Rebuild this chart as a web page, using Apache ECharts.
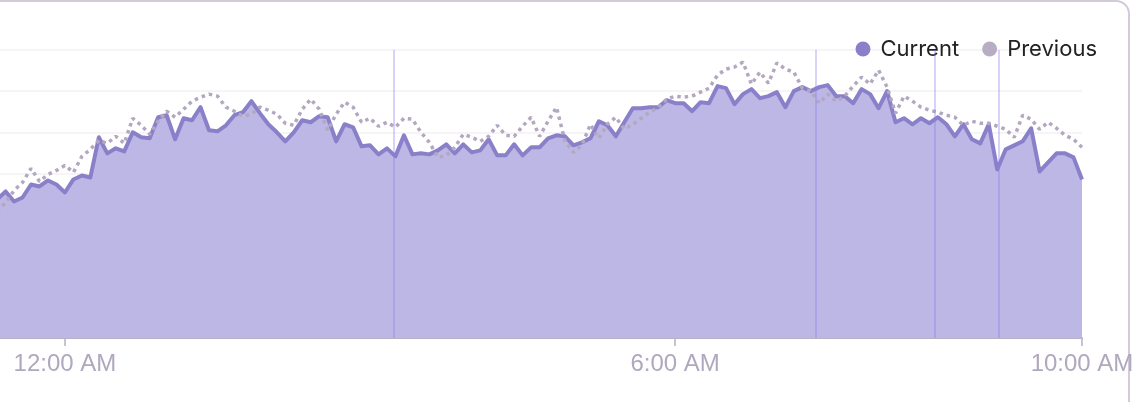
<!DOCTYPE html>
<html>
<head>
<meta charset="utf-8">
<script src="https://cdn.jsdelivr.net/npm/echarts@6/dist/echarts.min.js"></script>
<style>
  html, body { margin: 0; padding: 0; background: #ffffff; width: 1132px; height: 402px; overflow: hidden; }
  #card { position: absolute; left: -30px; top: 0; width: 1160px; height: 520px; box-sizing: border-box;
          border: 2px solid #d3cbd9; border-radius: 14px; background: #ffffff; }
  #chart { position: absolute; left: 0; top: 0; width: 1132px; height: 402px; }
</style>
</head>
<body>
<div id="card"></div>
<div id="chart"></div>
<script>
// Time of first sample (minutes from midnight) and sampling step (minutes)
const startMinute = -40;
const stepMinutes = 5;

// Current period values (arbitrary units)
const currentValues = [
  138,146,136,140,153,151,157,153,145,158,162,160,200,184,189,186,205,200,199,220,
  222,198,219,217,230,207,206,212,222,225,236,224,213,205,196,205,217,215,221,220,
  196,213,210,191,192,183,189,181,202,183,184,183,187,193,184,193,185,187,198,182,
  182,193,182,190,190,199,202,201,192,195,199,216,212,201,215,229,229,230,230,237,
  234,234,226,235,234,251,249,233,243,248,239,241,245,230,246,250,246,250,252,241,
  241,234,248,243,229,246,215,219,213,219,214,220,213,201,213,198,194,213,168,188,
  192,196,209,166,175,184,184,180,158
];

// Previous period values
const previousValues = [
  126,135,147,155,169,156,163,167,172,165,181,188,197,194,201,194,219,212,203,216,
  226,220,228,236,240,243,241,230,226,221,223,230,227,223,214,212,228,238,228,207,
  223,235,230,215,219,211,215,210,219,218,205,195,180,182,190,203,200,196,201,212,
  202,201,211,220,201,216,230,196,185,192,213,199,213,220,208,213,219,225,230,238,
  241,240,241,245,249,262,268,270,275,253,265,254,274,268,265,249,246,234,243,236,
  241,251,260,253,267,250,224,241,236,230,227,225,222,220,212,216,214,214,211,208,
  200,222,218,208,215,209,202,198,190
];

// Event markers (minutes from midnight)
const eventMinutes = [194, 443, 513, 551];

// Axis tick labels (minutes from midnight)
const xTickMinutes = [0, 360, 600];

const seriesNames = ['Current', 'Previous'];

function fmtTime(m) {
  let mm = ((m % 1440) + 1440) % 1440;
  let h = Math.floor(mm / 60), mi = Math.round(mm % 60);
  const ap = h < 12 ? 'AM' : 'PM';
  let h12 = h % 12; if (h12 === 0) h12 = 12;
  return h12 + ':' + (mi < 10 ? '0' + mi : mi) + ' ' + ap;
}

const curData = currentValues.map((v, i) => [startMinute + i * stepMinutes, v]);
const prevData = previousValues.map((v, i) => [startMinute + i * stepMinutes, v]);

const chart = echarts.init(document.getElementById('chart'), null, { renderer: 'canvas' });
chart.setOption({
  animation: false,
  backgroundColor: 'transparent',
  grid: { left: 0, right: 50, top: 50, bottom: 64, containLabel: false, outerBoundsMode: 'none' },
  legend: {
    right: 30, top: 33,
    icon: 'circle',
    itemWidth: 25, itemHeight: 15, itemGap: 23,
    textStyle: { fontFamily: 'Inter', fontSize: 22, color: '#222222', lineHeight: 22 },
    data: [
      { name: seriesNames[0], itemStyle: { color: '#8a80c9' } },
      { name: seriesNames[1], itemStyle: { color: '#b8aec4' } }
    ]
  },
  xAxis: {
    type: 'value',
    min: -38.3,
    max: 600,
    axisLine: { show: true, lineStyle: { color: '#b8b0c4', width: 2 } },
    axisTick: { show: true, length: 8, lineStyle: { color: '#b8b0c4', width: 1.5 }, customValues: xTickMinutes },
    axisLabel: {
      show: true, customValues: xTickMinutes,
      formatter: (v) => fmtTime(v),
      color: '#b0a8be', fontFamily: 'Liberation Sans', fontSize: 24, margin: 14
    },
    splitLine: { show: false }
  },
  yAxis: {
    type: 'value',
    min: 0, max: 287, interval: 41,
    axisLine: { show: false },
    axisTick: { show: false },
    axisLabel: { show: false },
    splitLine: { show: true, lineStyle: { color: '#f3f1f5', width: 1.5 } }
  },
  series: [
    {
      name: seriesNames[0],
      type: 'line',
      data: curData,
      showSymbol: false,
      symbol: 'none',
      z: 2,
      lineStyle: { color: '#8a80c9', width: 4, join: 'round' },
      itemStyle: { color: '#8a80c9' },
      areaStyle: { color: '#bdb7e6', opacity: 1 },
      markLine: {
        silent: true,
        symbol: ['none', 'none'],
        label: { show: false },
        lineStyle: { color: 'rgba(135,120,235,0.32)', width: 2, type: 'solid' },
        data: eventMinutes.map(m => ({ xAxis: m }))
      }
    },
    {
      name: seriesNames[1],
      type: 'line',
      data: prevData,
      showSymbol: false,
      symbol: 'none',
      z: 3,
      lineStyle: { color: '#b3a8c0', width: 3.5, type: [3.5, 4], cap: 'butt' },
      itemStyle: { color: '#b8aec4' }
    }
  ]
});
</script>
</body>
</html>
